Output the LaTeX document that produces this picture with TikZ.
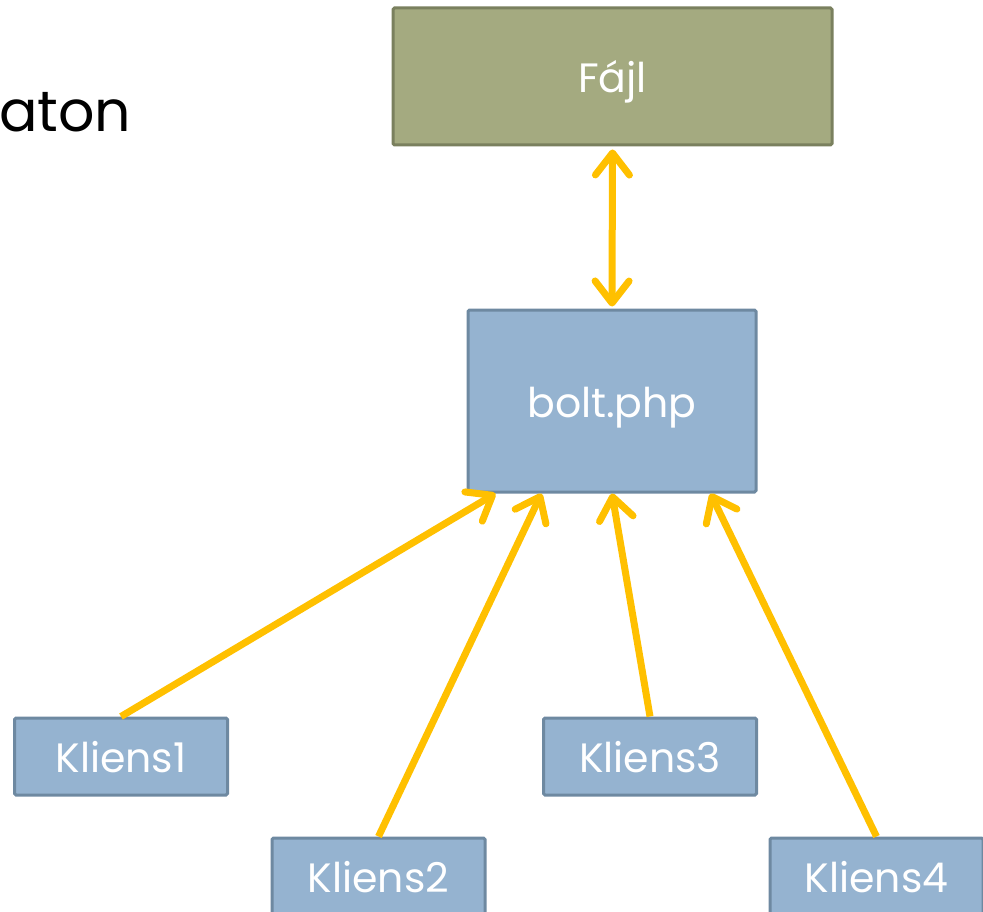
\documentclass[tikz,border=0pt]{standalone}
\usepackage{fontspec}
\setmainfont{Poppins}
\usetikzlibrary{arrows.meta}
\definecolor{olivefill}{HTML}{A4AA80}
\definecolor{olivedraw}{HTML}{7A805E}
\definecolor{bluefill}{HTML}{95B3D0}
\definecolor{bluedraw}{HTML}{6E89A1}
\definecolor{arrowgold}{HTML}{FFC000}
\tikzset{
  box/.style={draw, line width=3pt, rounded corners=1.5pt, inner sep=0pt,
    text=white, font=\fontsize{41}{48}\selectfont,
    text height=36pt, text depth=4pt},
  olivebox/.style={box, fill=olivefill, draw=olivedraw},
  bluebox/.style={box, fill=bluefill, draw=bluedraw},
  client/.style={bluebox, minimum width=213pt, minimum height=77pt},
  barb/.tip={Straight Barb[length=22pt,width=34pt,round]},
  link/.style={draw=arrowgold, line width=7pt, -barb},
  biglink/.style={link, barb-barb}
}
\begin{document}
\begin{tikzpicture}[x=1pt,y=-1pt]
\useasboundingbox (0,0) rectangle (983,912);
% partial heading word at the left edge
\node[anchor=base west, inner sep=0pt, font=\fontsize{57}{64}\selectfont] (title) at (-1,132) {aton};
% storage and server
\node[olivebox, minimum width=439pt, minimum height=137pt] (file) at (612.5,76.5) {Fájl};
\node[bluebox, minimum width=288pt, minimum height=182pt] (bolt) at (612,401) {bolt.php};
% clients
\node[client] (k1) at (121,756.5) {Kliens1};
\node[client] (k2) at (378.5,876.5) {Kliens2};
\node[client] (k3) at (650,756.5) {Kliens3};
\node[client] (k4) at (876.5,876.5) {Kliens4};
% connectors
\draw[biglink] ([yshift=-3pt]file.south) -- ([yshift=2pt]bolt.north);
\draw[link] (k1.north) -- ([xshift=29pt]bolt.south west);
\draw[link] (k2.north) -- ([xshift=75pt]bolt.south west);
\draw[link] (k3.north) -- (bolt.south);
\draw[link] (k4.north) -- ([xshift=244pt]bolt.south west);
\end{tikzpicture}
\end{document}
